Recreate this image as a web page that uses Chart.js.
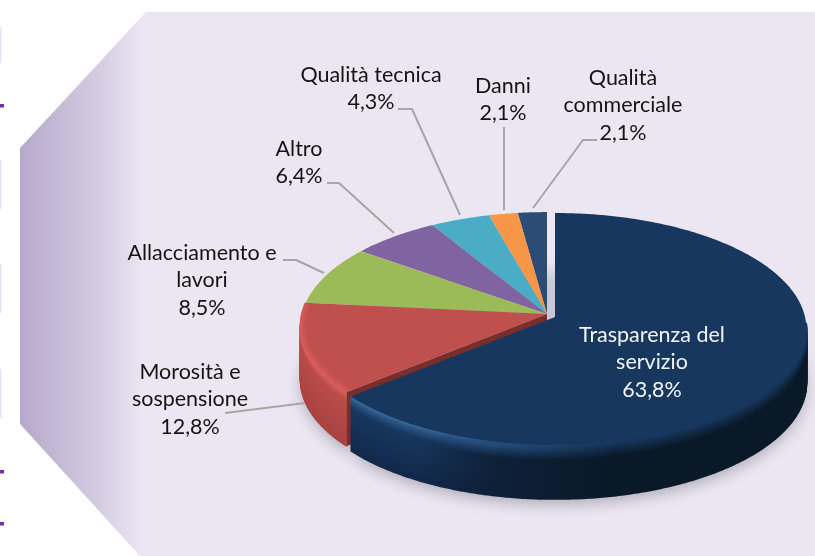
<!DOCTYPE html>
<html>
<head>
<meta charset="utf-8">
<style>html,body{margin:0;padding:0;background:#fff}#w{width:815px;height:556px;position:relative}canvas{display:block}</style>
<script src="https://cdn.jsdelivr.net/npm/chart.js@4"></script>
</head>
<body>
<div id="w"><canvas id="c" width="815" height="556"></canvas></div>
<script>
const categories = ["Trasparenza del servizio","Morosità e sospensione","Allacciamento e lavori","Altro","Qualità tecnica","Danni","Qualità commerciale"];
const shareValues = [63.8,12.8,8.5,6.4,4.3,2.1,2.1];
const sliceColors = ["#17375E","#C0504D","#9BBB59","#8064A2","#4BACC6","#F79646","#2B4C75"];
const labelLines = [
  ["Trasparenza del","servizio","63,8%"],
  ["Morosità e","sospensione","12,8%"],
  ["Allacciamento e","lavori","8,5%"],
  ["Altro","6,4%"],
  ["Qualità tecnica","4,3%"],
  ["Danni","2,1%"],
  ["Qualità","commerciale","2,1%"]
];
/* layout of the text blocks: centre x, first line y, line height */
const labelPlaces = [[652,335,27.5],[190,372,27.5],[202,253,27.5],[299,149,27],[371,75,27],[503,86,27],[623,78,27.5]];
const leaderPaths = [null,
  [[225,413],[305,403]],
  [[283,260],[296,260],[324,273]],
  [[327,183],[339,183],[394,233]],
  [[398,109],[412,109],[460,215]],
  [[504,127],[504,210]],
  [[597,140],[583,140],[533,208]]
];
const sideStripes = [[27,63],[160,209],[264,313],[369,418]];
const sideDashes = [106,472,524];

const PERSP = 0.103, SX = 1.25, SY = 0.5735, DEPTH = 54, EXPLODE = [8,3], REST_SCALE = 0.98;

function hex(c){return [1,3,5].map(i=>parseInt(c.substr(i,2),16));}
function mix(a,b,t){const A=hex(a),B=hex(b);t=Math.max(0,Math.min(1,t));return 'rgb('+A.map((v,i)=>Math.round(v+(B[i]-v)*t)).join(',')+')';}

function project(arc,a,r,dx,dy,s){
  const X=Math.cos(a)*r,Y=Math.sin(a)*r,w=1/(1-PERSP*Y),R=arc.outerRadius*s;
  return [arc.x+dx+R*SX*X*w, arc.y+dy+R*SY*Y*w];
}
function arcPts(arc,a0,a1,dx,dy,s){
  const n=Math.max(4,Math.ceil((a1-a0)/0.01)),p=[];
  for(let i=0;i<=n;i++)p.push(project(arc,a0+(a1-a0)*i/n,1,dx,dy,s));
  return p;
}
function trace(ctx,pts){ctx.beginPath();pts.forEach((p,i)=>i?ctx.lineTo(p[0],p[1]):ctx.moveTo(p[0],p[1]));}
function wedge(ctx,arc,dx,dy,s){
  const pts=[project(arc,0,0,dx,dy,s)].concat(arcPts(arc,arc.startAngle,arc.endAngle,dx,dy,s));
  trace(ctx,pts);ctx.closePath();
}

const panelPlugin={id:'panel',beforeDraw(chart){
  const ctx=chart.ctx;ctx.save();
  ctx.fillStyle='#fff';ctx.fillRect(0,0,815,556);
  const g=ctx.createLinearGradient(20,0,815,0);
  g.addColorStop(0,'#B8A8CC');g.addColorStop(0.05,'#C6B9D5');g.addColorStop(0.1,'#D5CCE2');g.addColorStop(0.155,'#EBE6F2');g.addColorStop(1,'#EBE6F2');
  ctx.fillStyle=g;ctx.beginPath();
  ctx.moveTo(146,12);ctx.lineTo(815,12);ctx.lineTo(815,556);ctx.lineTo(140,556);ctx.lineTo(20,424);ctx.lineTo(20,148);ctx.closePath();ctx.fill();
  ctx.fillStyle='#EDE0FA';sideStripes.forEach(s=>ctx.fillRect(0,s[0],1.5,s[1]-s[0]));
  ctx.fillStyle='#7030A0';sideDashes.forEach(y=>ctx.fillRect(0,y-2,4,3.5));
  ctx.restore();
}};

const piePlugin={id:'pie3d',beforeDatasetsDraw(chart){
  const ctx=chart.ctx,arcs=chart.getDatasetMeta(0).data,big=arcs[0],red=arcs[1];
  const off=i=>i===0?EXPLODE:[0,0];
  const scl=i=>i===0?1:REST_SCALE;
  ctx.save();
  /* soft shadow only: shape is drawn off-canvas */
  const SHIFT=3000;
  ctx.shadowColor='rgba(50,50,60,0.30)';ctx.shadowBlur=14;ctx.shadowOffsetX=SHIFT;ctx.shadowOffsetY=0;
  ctx.fillStyle='#000';
  arcs.forEach((a,i)=>{const o=off(i);wedge(ctx,a,o[0]-SHIFT,o[1]+DEPTH+6,scl(i));ctx.fill();});
  ctx.shadowColor='transparent';ctx.shadowBlur=0;ctx.shadowOffsetX=0;

  function walls(i){
    const a=arcs[i],o=off(i),s=scl(i);
    const lo=a.startAngle,hi=a.endAngle;
    /* only the front-facing part of the rim */
    const visLo=Math.max(lo,0.05), visHi=Math.min(hi,Math.PI+0.12);
    if(visHi<=visLo)return;
    ctx.lineCap='butt';
    for(let d=DEPTH;d>=0;d--){
      const g=ctx.createLinearGradient(o[0]+a.x-250,0,o[0]+a.x+250,0);
      if(i===0){
        const rimL=d<3?mix('#3A6797','#2A5585',d/3):mix('#2A5585','#17375E',(d-3)/8);
        const baseL=d<11?rimL:mix('#17375E','#12294A',(d-11)/40);
        const rimM=d<3?'#234A78':mix('#234A78','#0E2038',(d-3)/12);
        const baseR=mix('#17375E','#0A1928',d/14);
        g.addColorStop(0,baseL);g.addColorStop(0.22,baseL);g.addColorStop(0.38,rimM);g.addColorStop(0.62,baseR);g.addColorStop(1,baseR);
      }else{
        const c=d<8?mix('#DC5F5D','#B94C49',d/8):mix('#B94C49','#A94340',(d-8)/46);
        g.addColorStop(0,c);g.addColorStop(1,c);
      }
      ctx.strokeStyle=g;ctx.lineWidth=2;
      trace(ctx,arcPts(a,visLo,visHi,o[0],o[1]+d,s));ctx.stroke();
    }
  }
  /* everything except the exploded slice */
  walls(1);
  const S=REST_SCALE;
  const rimPts=[project(red,red.startAngle,0,0,0,S),project(red,red.startAngle,1,0,0,S),project(red,red.startAngle,1,0,DEPTH,S),project(red,red.startAngle,0,0,DEPTH,S)];
  trace(ctx,rimPts);ctx.closePath();ctx.fillStyle='#7A2E2C';ctx.fill();
  for(let i=arcs.length-1;i>=1;i--){
    wedge(ctx,arcs[i],0,0,S);ctx.fillStyle=arcs[i].options.backgroundColor;ctx.fill();
  }
  /* soft bright bevel just inside the red slice's front edge */
  ctx.save();
  wedge(ctx,red,0,0,S);ctx.clip();
  for(let t=0;t<6;t++){
    ctx.strokeStyle='rgba(220,95,93,'+(0.32-t*0.05)+')';ctx.lineWidth=2+t*2;
    trace(ctx,arcPts(red,red.startAngle,red.endAngle,0,0,S));ctx.stroke();
  }
  ctx.restore();
  /* exploded slice */
  walls(0);
  wedge(ctx,big,EXPLODE[0],EXPLODE[1],1);ctx.fillStyle=big.options.backgroundColor;ctx.fill();
  ctx.restore();
  return false;
}};

const labelPlugin={id:'callouts',afterDraw(chart){
  const ctx=chart.ctx;ctx.save();
  ctx.strokeStyle='#A6A6A6';ctx.lineWidth=2;ctx.lineJoin='round';
  leaderPaths.forEach(p=>{if(!p)return;trace(ctx,p);ctx.stroke();});
  ctx.font='21.5px Lato';ctx.textAlign='center';ctx.textBaseline='middle';
  labelLines.forEach((lines,i)=>{
    const L=labelPlaces[i];
    ctx.fillStyle=i===0?'#F4F4F8':'#141414';
    lines.forEach((t,j)=>ctx.fillText(t,L[0],L[1]+j*L[2]));
  });
  ctx.restore();
}};

new Chart(document.getElementById('c'),{
  type:'pie',
  data:{labels:categories,datasets:[{data:shareValues,backgroundColor:sliceColors,borderWidth:0}]},
  options:{
    responsive:false,animation:false,
    layout:{padding:{left:347,right:68,top:114,bottom:42}},
    plugins:{legend:{display:false},tooltip:{enabled:false},title:{display:false}}
  },
  plugins:[panelPlugin,piePlugin,labelPlugin]
});
</script>
</body>
</html>
